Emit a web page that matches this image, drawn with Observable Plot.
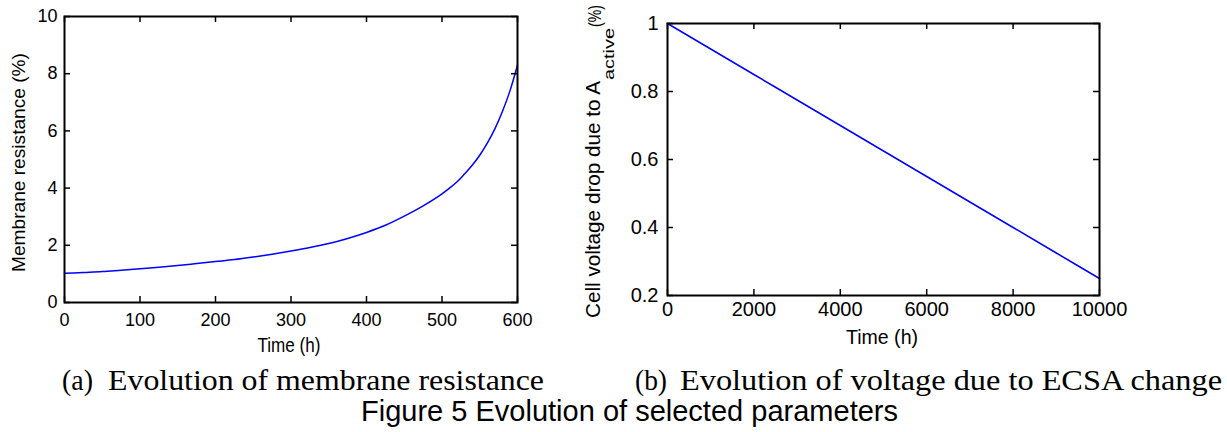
<!DOCTYPE html>
<html>
<head>
<meta charset="utf-8">
<script src="https://cdn.jsdelivr.net/npm/d3@7"></script>
<script src="https://cdn.jsdelivr.net/npm/@observablehq/plot@0.6"></script>
<style>
  html, body { margin: 0; padding: 0; background: #fff; }
  #wrap { position: relative; width: 1227px; height: 432px; overflow: hidden; background: #fff; }
  #wrap > svg, #wrap > figure { position: absolute; top: 0; margin: 0; }
  #overlay { left: 0; top: 0; pointer-events: none; }
</style>
</head>
<body>
<div id="wrap"></div>
<script>
// ---- Data ----
const memTime = [0, 25, 50, 75, 100, 125, 150, 175, 200, 225, 250, 275, 300, 325, 350, 375, 400, 425, 450, 475, 500, 510, 520, 530, 540, 550, 560, 570, 580, 590, 600];
const memRes  = [1.02, 1.05, 1.08, 1.13, 1.18, 1.23, 1.29, 1.36, 1.43, 1.50, 1.59, 1.69, 1.80, 1.92, 2.06, 2.24, 2.45, 2.70, 3.02, 3.38, 3.80, 4.00, 4.22, 4.50, 4.80, 5.15, 5.57, 6.07, 6.68, 7.40, 8.30];

const ecsaTime = [0, 1000, 2000, 3000, 4000, 5000, 6000, 7000, 8000, 9000, 10000];
const ecsaDrop = [1.0, 0.925, 0.85, 0.775, 0.70, 0.625, 0.55, 0.475, 0.40, 0.325, 0.25];

const memXTicks = [0, 100, 200, 300, 400, 500, 600];
const memYTicks = [0, 2, 4, 6, 8, 10];
const ecsaXTicks = [0, 2000, 4000, 6000, 8000, 10000];
const ecsaYTicks = [0.2, 0.4, 0.6, 0.8, 1];

const memLabelY = "Membrane resistance (%)";
const ecsaLabelMain = "Cell voltage drop due to A";
const ecsaLabelSub = "active";
const ecsaLabelEnd = "(%)";
const timeLabel = "Time (h)";
const captionA = ["(a)", "Evolution of membrane resistance"];
const captionB = ["(b)", "Evolution of voltage due to ECSA change"];
const figureCaption = "Figure 5 Evolution of selected parameters";

const memRows = memTime.map((t, i) => ({t, v: memRes[i]}));
const ecsaRows = ecsaTime.map((t, i) => ({t, v: ecsaDrop[i]}));

const wrap = document.getElementById("wrap");
const sans = "'Liberation Sans', Arial, Helvetica, sans-serif";
const serif = "'Liberation Serif', 'Times New Roman', Times, serif";

function boxPlot({rows, xDomain, yDomain, xTicks, yTicks, left, width, height, mt, mb, ml, mr, font, xPad, yPad}) {
  const pw = width - ml - mr, ph = height - mt - mb, tl = 6;
  // inward tick length expressed in data units of each scale
  const [x0, x1] = xDomain, [y0, y1] = yDomain;
  const dx = (x1 - x0) * tl / pw, dy = (y1 - y0) * tl / ph;
  const tickStyle = {stroke: "#000", strokeWidth: 1.5};
  const chart = Plot.plot({
    width, height,
    marginTop: mt, marginBottom: mb, marginLeft: ml, marginRight: mr,
    style: {fontFamily: sans, fontSize: font + "px", color: "#000", background: "transparent", overflow: "visible"},
    x: {domain: xDomain, label: null},
    y: {domain: yDomain, label: null},
    marks: [
      Plot.line(rows, {x: "t", y: "v", stroke: "#0000ff", strokeWidth: 1.5, curve: "monotone-x"}),
      Plot.ruleX(xTicks, {x: d => d, y1: () => y0, y2: () => y0 + dy, ...tickStyle}),
      Plot.ruleX(xTicks, {x: d => d, y1: () => y1, y2: () => y1 - dy, ...tickStyle}),
      Plot.ruleY(yTicks, {y: d => d, x1: () => x0, x2: () => x0 + dx, ...tickStyle}),
      Plot.ruleY(yTicks, {y: d => d, x1: () => x1, x2: () => x1 - dx, ...tickStyle}),
      Plot.axisX(xTicks, {tickSize: 0, tickPadding: xPad, label: null, fontSize: font, tickFormat: d => String(d), fill: "#000"}),
      Plot.axisY(yTicks, {tickSize: 0, tickPadding: yPad, label: null, fontSize: font, tickFormat: d => String(d), fill: "#000"}),
      Plot.frame({stroke: "#000", strokeWidth: 2})
    ]
  });
  chart.style.left = left + "px";
  wrap.appendChild(chart);
}

boxPlot({rows: memRows, xDomain: [0, 600], yDomain: [0, 10], xTicks: memXTicks, yTicks: memYTicks,
  left: 0, width: 540, height: 340, mt: 16, mb: 38, ml: 64, mr: 23, font: 18, xPad: 11, yPad: 7});

boxPlot({rows: ecsaRows, xDomain: [0, 10000], yDomain: [0.2, 1], xTicks: ecsaXTicks, yTicks: ecsaYTicks,
  left: 560, width: 575, height: 340, mt: 23, mb: 45, ml: 107, mr: 36, font: 20, xPad: 6, yPad: 9});

// ---- Text overlay: axis titles and captions ----
const ns = "http://www.w3.org/2000/svg";
const ov = document.createElementNS(ns, "svg");
ov.setAttribute("id", "overlay");
ov.setAttribute("width", 1227);
ov.setAttribute("height", 432);
wrap.appendChild(ov);

function txt(str, attrs) {
  const t = document.createElementNS(ns, "text");
  for (const k in attrs) t.setAttribute(k, attrs[k]);
  t.textContent = str;
  ov.appendChild(t);
  return t;
}

// left y label
txt(memLabelY, {transform: "translate(25,0) rotate(-90)", x: -272, y: 0, "font-family": sans, "font-size": 18, textLength: 219, lengthAdjust: "spacingAndGlyphs", fill: "#000"});
// right y label with subscript
txt(ecsaLabelMain, {transform: "translate(600,0) rotate(-90)", x: -318, y: 0, "font-family": sans, "font-size": 20, textLength: 237, lengthAdjust: "spacingAndGlyphs", fill: "#000"});
txt(ecsaLabelSub, {transform: "translate(600,0) rotate(-90)", x: -80, y: 14, "font-family": sans, "font-size": 15, textLength: 52, lengthAdjust: "spacingAndGlyphs", fill: "#000"});
txt(ecsaLabelEnd, {transform: "translate(600,0) rotate(-90)", x: -27, y: 1, "font-family": sans, "font-size": 18, textLength: 22, lengthAdjust: "spacingAndGlyphs", fill: "#000"});

// x labels
txt(timeLabel, {x: 289, y: 352, "text-anchor": "middle", "font-family": sans, "font-size": 20, textLength: 63, lengthAdjust: "spacingAndGlyphs", fill: "#000"});
txt(timeLabel, {x: 882, y: 344, "text-anchor": "middle", "font-family": sans, "font-size": 20, textLength: 72, lengthAdjust: "spacingAndGlyphs", fill: "#000"});

// sub-captions
txt(captionA[0], {x: 62, y: 390, "font-family": serif, "font-size": 30, textLength: 31, lengthAdjust: "spacingAndGlyphs", fill: "#000"});
txt(captionA[1], {x: 108, y: 390, "font-family": serif, "font-size": 30, textLength: 436, lengthAdjust: "spacingAndGlyphs", fill: "#000"});
txt(captionB[0], {x: 635, y: 390, "font-family": serif, "font-size": 30, textLength: 32, lengthAdjust: "spacingAndGlyphs", fill: "#000"});
txt(captionB[1], {x: 680, y: 390, "font-family": serif, "font-size": 30, textLength: 542, lengthAdjust: "spacingAndGlyphs", fill: "#000"});

// figure caption
txt(figureCaption, {x: 361, y: 421, "font-family": sans, "font-size": 29, textLength: 537, lengthAdjust: "spacingAndGlyphs", fill: "#000"});
</script>
</body>
</html>
